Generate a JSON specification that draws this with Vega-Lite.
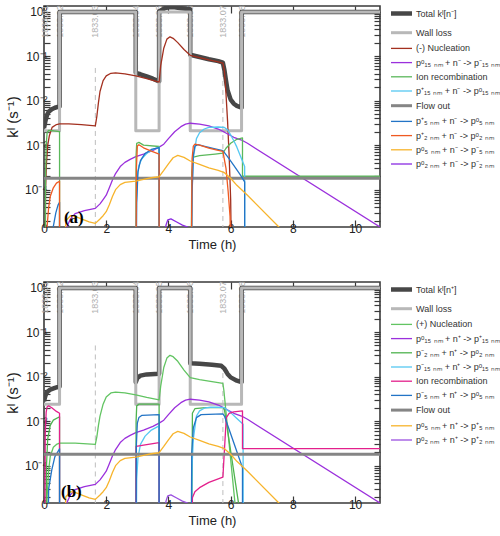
{
  "$schema": "https://vega.github.io/schema/vega-lite/v6.json",
  "padding": {"left": 4, "top": 4, "right": 0, "bottom": 0},
  "spacing": 28,
  "datasets": {
    "notes": [
      {"t": 0.02, "k": 0.6, "lab": "1833.01"},
      {"t": 0.5, "k": 0.6, "lab": "1833.02"},
      {"t": 1.65, "k": 0.6, "lab": "1833.03"},
      {"t": 2.95, "k": 0.6, "lab": "1833.04"},
      {"t": 3.7, "k": 0.6, "lab": "1833.05"},
      {"t": 4.7, "k": 0.6, "lab": "1833.06"},
      {"t": 5.75, "k": 0.6, "lab": "1833.07"},
      {"t": 6.35, "k": 0.6, "lab": "1833.08"}
    ],
    "dashA": [{"t": 1.65, "k": 0.054}, {"t": 5.75, "k": 0.07}],
    "dashB": [{"t": 1.65, "k": 0.05}, {"t": 5.75, "k": 0.012}],
    "a": [
      {"s":"T","t":0,"k":0.0024},{"s":"T","t":0.05,"k":0.0036},{"s":"T","t":0.1,"k":0.0048},{"s":"T","t":0.15,"k":0.0056},{"s":"T","t":0.25,"k":0.0064},{"s":"T","t":0.35,"k":0.0069},{"s":"T","t":0.5,"k":0.0074},{"s":"T","t":0.5,"k":0.975},{"s":"T","t":2.95,"k":0.975},{"s":"T","t":2.95,"k":0.042},{"s":"T","t":3.1,"k":0.039},{"s":"T","t":3.3,"k":0.035},{"s":"T","t":3.5,"k":0.031},{"s":"T","t":3.7,"k":0.027},{"s":"T","t":3.7,"k":1.0},{"s":"T","t":3.8,"k":1.1},{"s":"T","t":3.9,"k":1.2},{"s":"T","t":4.05,"k":1.26},{"s":"T","t":4.2,"k":1.24},{"s":"T","t":4.4,"k":1.19},{"s":"T","t":4.55,"k":1.15},{"s":"T","t":4.7,"k":1.12},{"s":"T","t":4.7,"k":0.107},{"s":"T","t":5.0,"k":0.095},{"s":"T","t":5.3,"k":0.085},{"s":"T","t":5.6,"k":0.077},{"s":"T","t":5.75,"k":0.071},{"s":"T","t":5.8,"k":0.048},{"s":"T","t":5.85,"k":0.028},{"s":"T","t":5.9,"k":0.017},{"s":"T","t":6.0,"k":0.0105},{"s":"T","t":6.1,"k":0.0085},{"s":"T","t":6.2,"k":0.0076},{"s":"T","t":6.35,"k":0.0069},{"s":"T","t":6.35,"k":0.975},{"s":"T","t":10.8,"k":0.975},
      {"s":"W","t":0,"k":0.0021},{"s":"W","t":0.5,"k":0.0021},{"s":"W","t":0.5,"k":0.97},{"s":"W","t":2.95,"k":0.97},{"s":"W","t":2.95,"k":0.0021},{"s":"W","t":3.7,"k":0.0021},{"s":"W","t":3.7,"k":0.97},{"s":"W","t":4.7,"k":0.97},{"s":"W","t":4.7,"k":0.0021},{"s":"W","t":6.35,"k":0.0021},{"s":"W","t":6.35,"k":0.97},{"s":"W","t":10.8,"k":0.97},
      {"s":"N","t":0.03,"k":1e-7},{"s":"N","t":0.05,"k":0.0001},{"s":"N","t":0.08,"k":0.0004},{"s":"N","t":0.12,"k":0.001},{"s":"N","t":0.17,"k":0.0016},{"s":"N","t":0.26,"k":0.0025},{"s":"N","t":0.4,"k":0.0029},{"s":"N","t":0.5,"k":0.003},{"s":"N","t":0.8,"k":0.003},{"s":"N","t":1.2,"k":0.0029},{"s":"N","t":1.65,"k":0.0027},{"s":"N","t":1.7,"k":0.0045},{"s":"N","t":1.75,"k":0.009},{"s":"N","t":1.8,"k":0.016},{"s":"N","t":1.9,"k":0.028},{"s":"N","t":2.0,"k":0.036},{"s":"N","t":2.15,"k":0.041},{"s":"N","t":2.3,"k":0.042},{"s":"N","t":2.6,"k":0.04},{"s":"N","t":2.95,"k":0.036},{"s":"N","t":3.3,"k":0.031},{"s":"N","t":3.7,"k":0.026},{"s":"N","t":3.75,"k":0.06},{"s":"N","t":3.85,"k":0.15},{"s":"N","t":3.95,"k":0.24},{"s":"N","t":4.05,"k":0.27},{"s":"N","t":4.15,"k":0.25},{"s":"N","t":4.3,"k":0.2},{"s":"N","t":4.5,"k":0.14},{"s":"N","t":4.7,"k":0.104},{"s":"N","t":5.0,"k":0.092},{"s":"N","t":5.3,"k":0.082},{"s":"N","t":5.6,"k":0.074},{"s":"N","t":5.75,"k":0.069},{"s":"N","t":5.8,"k":0.045},{"s":"N","t":5.85,"k":0.014},{"s":"N","t":5.9,"k":0.0035},{"s":"N","t":5.95,"k":0.0006},{"s":"N","t":6.0,"k":0.00006},{"s":"N","t":6.05,"k":1e-7},
      {"s":"P15","t":0.6,"k":1e-7},{"s":"P15","t":0.72,"k":0.000014},{"s":"P15","t":0.85,"k":0.000022},{"s":"P15","t":1.0,"k":0.000029},{"s":"P15","t":1.3,"k":0.000034},{"s":"P15","t":1.65,"k":0.000038},{"s":"P15","t":1.8,"k":0.000048},{"s":"P15","t":1.9,"k":0.00006},{"s":"P15","t":2.0,"k":0.000075},{"s":"P15","t":2.1,"k":0.00011},{"s":"P15","t":2.2,"k":0.000165},{"s":"P15","t":2.3,"k":0.00023},{"s":"P15","t":2.45,"k":0.00033},{"s":"P15","t":2.6,"k":0.00041},{"s":"P15","t":2.77,"k":0.00048},{"s":"P15","t":2.95,"k":0.00055},{"s":"P15","t":3.2,"k":0.00063},{"s":"P15","t":3.5,"k":0.00076},{"s":"P15","t":3.7,"k":0.0009},{"s":"P15","t":3.85,"k":0.00105},{"s":"P15","t":4.0,"k":0.0014},{"s":"P15","t":4.2,"k":0.002},{"s":"P15","t":4.4,"k":0.0026},{"s":"P15","t":4.55,"k":0.00295},{"s":"P15","t":4.7,"k":0.0031},{"s":"P15","t":5.0,"k":0.00295},{"s":"P15","t":5.3,"k":0.0027},{"s":"P15","t":5.6,"k":0.0023},{"s":"P15","t":5.8,"k":0.00195},{"s":"P15","t":6.1,"k":0.0015},{"s":"P15","t":6.35,"k":0.0013},{"s":"P15","t":6.54,"k":0.0011},{"s":"P15","t":10.8,"k":0.0000145},
      {"s":"IR","t":0.03,"k":1e-7},{"s":"IR","t":0.05,"k":0.0002},{"s":"IR","t":0.07,"k":0.001},{"s":"IR","t":0.1,"k":0.0019},{"s":"IR","t":0.15,"k":0.00215},{"s":"IR","t":0.3,"k":0.0021},{"s":"IR","t":0.5,"k":0.002},{"s":"IR","t":0.5,"k":1e-7},{"s":"IR","t":2.95,"k":1e-7},{"s":"IR","t":2.96,"k":0.0006},{"s":"IR","t":2.98,"k":0.0011},{"s":"IR","t":3.05,"k":0.00115},{"s":"IR","t":3.2,"k":0.001},{"s":"IR","t":3.7,"k":0.00093},{"s":"IR","t":3.7,"k":1e-7},{"s":"IR","t":4.72,"k":1e-7},{"s":"IR","t":4.75,"k":0.00025},{"s":"IR","t":4.8,"k":0.00054},{"s":"IR","t":5.0,"k":0.00058},{"s":"IR","t":5.5,"k":0.00063},{"s":"IR","t":5.75,"k":0.00066},{"s":"IR","t":5.85,"k":0.00085},{"s":"IR","t":6.0,"k":0.0011},{"s":"IR","t":6.2,"k":0.00135},{"s":"IR","t":6.38,"k":0.00145},{"s":"IR","t":6.38,"k":0.0002},{"s":"IR","t":10.8,"k":0.0002},
      {"s":"C15","t":2.95,"k":1e-7},{"s":"C15","t":2.97,"k":0.00005},{"s":"C15","t":3.0,"k":0.0002},{"s":"C15","t":3.05,"k":0.00035},{"s":"C15","t":3.15,"k":0.0005},{"s":"C15","t":3.3,"k":0.00065},{"s":"C15","t":3.5,"k":0.0008},{"s":"C15","t":3.7,"k":0.0009},{"s":"C15","t":3.7,"k":1e-7},{"s":"C15","t":4.72,"k":1e-7},{"s":"C15","t":4.76,"k":0.0001},{"s":"C15","t":4.8,"k":0.0005},{"s":"C15","t":4.9,"k":0.0014},{"s":"C15","t":5.0,"k":0.0019},{"s":"C15","t":5.15,"k":0.0023},{"s":"C15","t":5.3,"k":0.0025},{"s":"C15","t":5.6,"k":0.00255},{"s":"C15","t":5.8,"k":0.0025},{"s":"C15","t":5.9,"k":0.0022},{"s":"C15","t":6.0,"k":0.0017},{"s":"C15","t":6.1,"k":0.00125},{"s":"C15","t":6.2,"k":0.0009},{"s":"C15","t":6.3,"k":0.0006},{"s":"C15","t":6.4,"k":0.0004},{"s":"C15","t":6.45,"k":0.00033},{"s":"C15","t":6.45,"k":1e-7},
      {"s":"F","t":0,"k":0.00018},{"s":"F","t":10.8,"k":0.00018},
      {"s":"B5","t":0.25,"k":1e-7},{"s":"B5","t":0.3,"k":0.000015},{"s":"B5","t":0.38,"k":0.00003},{"s":"B5","t":0.45,"k":0.000045},{"s":"B5","t":0.5,"k":0.000052},{"s":"B5","t":0.5,"k":1e-7},{"s":"B5","t":2.95,"k":1e-7},{"s":"B5","t":2.98,"k":0.00005},{"s":"B5","t":3.02,"k":0.00025},{"s":"B5","t":3.1,"k":0.00045},{"s":"B5","t":3.25,"k":0.00065},{"s":"B5","t":3.45,"k":0.0008},{"s":"B5","t":3.7,"k":0.00088},{"s":"B5","t":3.7,"k":1e-7},{"s":"B5","t":4.72,"k":1e-7},{"s":"B5","t":4.76,"k":0.00008},{"s":"B5","t":4.8,"k":0.0006},{"s":"B5","t":4.85,"k":0.00095},{"s":"B5","t":4.95,"k":0.00102},{"s":"B5","t":5.2,"k":0.00092},{"s":"B5","t":5.5,"k":0.00082},{"s":"B5","t":5.75,"k":0.00075},{"s":"B5","t":5.9,"k":0.00055},{"s":"B5","t":6.1,"k":0.00035},{"s":"B5","t":6.3,"k":0.00022},{"s":"B5","t":6.45,"k":0.00015},{"s":"B5","t":6.45,"k":1e-7},
      {"s":"O2","t":0.05,"k":1e-7},{"s":"O2","t":0.1,"k":0.000015},{"s":"O2","t":0.15,"k":0.00004},{"s":"O2","t":0.2,"k":0.00007},{"s":"O2","t":0.3,"k":0.00011},{"s":"O2","t":0.4,"k":0.00014},{"s":"O2","t":0.5,"k":0.000155},{"s":"O2","t":0.5,"k":1e-7},{"s":"O2","t":2.95,"k":1e-7},{"s":"O2","t":2.97,"k":0.0003},{"s":"O2","t":3.0,"k":0.00095},{"s":"O2","t":3.05,"k":0.00102},{"s":"O2","t":3.2,"k":0.00087},{"s":"O2","t":3.45,"k":0.00073},{"s":"O2","t":3.7,"k":0.00063},{"s":"O2","t":3.7,"k":1e-7},{"s":"O2","t":4.72,"k":1e-7},{"s":"O2","t":4.76,"k":0.0005},{"s":"O2","t":4.8,"k":0.00095},{"s":"O2","t":4.85,"k":0.00105},{"s":"O2","t":5.0,"k":0.001},{"s":"O2","t":5.3,"k":0.00086},{"s":"O2","t":5.6,"k":0.00076},{"s":"O2","t":5.75,"k":0.00072},{"s":"O2","t":5.85,"k":0.0003},{"s":"O2","t":5.92,"k":0.00009},{"s":"O2","t":5.98,"k":0.000025},{"s":"O2","t":6.05,"k":1e-7},
      {"s":"Y5","t":0.6,"k":1e-7},{"s":"Y5","t":0.7,"k":0.00002},{"s":"Y5","t":0.85,"k":0.000026},{"s":"Y5","t":1.0,"k":0.000025},{"s":"Y5","t":1.2,"k":0.000022},{"s":"Y5","t":1.45,"k":0.000019},{"s":"Y5","t":1.65,"k":0.0000175},{"s":"Y5","t":1.8,"k":0.000022},{"s":"Y5","t":1.9,"k":0.000026},{"s":"Y5","t":2.0,"k":0.000032},{"s":"Y5","t":2.1,"k":0.000046},{"s":"Y5","t":2.2,"k":0.00007},{"s":"Y5","t":2.3,"k":0.0001},{"s":"Y5","t":2.45,"k":0.00013},{"s":"Y5","t":2.6,"k":0.000145},{"s":"Y5","t":2.95,"k":0.000155},{"s":"Y5","t":3.2,"k":0.00017},{"s":"Y5","t":3.45,"k":0.000185},{"s":"Y5","t":3.7,"k":0.000195},{"s":"Y5","t":3.85,"k":0.00027},{"s":"Y5","t":4.0,"k":0.00038},{"s":"Y5","t":4.15,"k":0.00052},{"s":"Y5","t":4.3,"k":0.00059},{"s":"Y5","t":4.5,"k":0.00053},{"s":"Y5","t":4.7,"k":0.00044},{"s":"Y5","t":5.0,"k":0.00037},{"s":"Y5","t":5.3,"k":0.00031},{"s":"Y5","t":5.6,"k":0.00027},{"s":"Y5","t":5.8,"k":0.00024},{"s":"Y5","t":6.0,"k":0.00018},{"s":"Y5","t":6.2,"k":0.000125},{"s":"Y5","t":6.54,"k":0.000075},{"s":"Y5","t":7.55,"k":0.0000145},{"s":"Y5","t":7.65,"k":0.000012},
      {"s":"P2","t":3.88,"k":1e-7},{"s":"P2","t":3.92,"k":0.000016},{"s":"P2","t":3.98,"k":0.000021},{"s":"P2","t":4.08,"k":0.000022},{"s":"P2","t":4.25,"k":0.000019},{"s":"P2","t":4.45,"k":0.000016},{"s":"P2","t":4.62,"k":0.0000145},{"s":"P2","t":4.66,"k":1e-7}
    ],
    "b": [
      {"s":"T","t":0,"k":0.0028},{"s":"T","t":0.05,"k":0.0038},{"s":"T","t":0.1,"k":0.0045},{"s":"T","t":0.2,"k":0.0051},{"s":"T","t":0.35,"k":0.0056},{"s":"T","t":0.5,"k":0.006},{"s":"T","t":0.5,"k":0.975},{"s":"T","t":2.95,"k":0.975},{"s":"T","t":2.95,"k":0.0075},{"s":"T","t":3.0,"k":0.0093},{"s":"T","t":3.1,"k":0.0105},{"s":"T","t":3.3,"k":0.0112},{"s":"T","t":3.7,"k":0.0116},{"s":"T","t":3.7,"k":0.975},{"s":"T","t":4.7,"k":0.975},{"s":"T","t":4.7,"k":0.02},{"s":"T","t":5.0,"k":0.0195},{"s":"T","t":5.4,"k":0.0185},{"s":"T","t":5.7,"k":0.0175},{"s":"T","t":5.8,"k":0.015},{"s":"T","t":5.9,"k":0.0115},{"s":"T","t":6.0,"k":0.0096},{"s":"T","t":6.2,"k":0.0081},{"s":"T","t":6.35,"k":0.0075},{"s":"T","t":6.35,"k":0.975},{"s":"T","t":10.8,"k":0.975},
      {"s":"W","t":0,"k":0.0024},{"s":"W","t":0.5,"k":0.0024},{"s":"W","t":0.5,"k":0.97},{"s":"W","t":2.95,"k":0.97},{"s":"W","t":2.95,"k":0.0024},{"s":"W","t":3.7,"k":0.0024},{"s":"W","t":3.7,"k":0.97},{"s":"W","t":4.7,"k":0.97},{"s":"W","t":4.7,"k":0.0024},{"s":"W","t":6.35,"k":0.0024},{"s":"W","t":6.35,"k":0.97},{"s":"W","t":10.8,"k":0.97},
      {"s":"N","t":0.05,"k":1e-7},{"s":"N","t":0.1,"k":0.00002},{"s":"N","t":0.15,"k":0.00008},{"s":"N","t":0.2,"k":0.00016},{"s":"N","t":0.3,"k":0.00026},{"s":"N","t":0.4,"k":0.0003},{"s":"N","t":0.5,"k":0.00032},{"s":"N","t":1.0,"k":0.00032},{"s":"N","t":1.65,"k":0.0003},{"s":"N","t":1.7,"k":0.00045},{"s":"N","t":1.75,"k":0.0008},{"s":"N","t":1.8,"k":0.0013},{"s":"N","t":1.9,"k":0.0024},{"s":"N","t":2.0,"k":0.0035},{"s":"N","t":2.15,"k":0.0043},{"s":"N","t":2.3,"k":0.0045},{"s":"N","t":2.6,"k":0.0043},{"s":"N","t":2.95,"k":0.0039},{"s":"N","t":3.3,"k":0.0034},{"s":"N","t":3.7,"k":0.003},{"s":"N","t":3.75,"k":0.006},{"s":"N","t":3.85,"k":0.016},{"s":"N","t":3.95,"k":0.026},{"s":"N","t":4.05,"k":0.03},{"s":"N","t":4.15,"k":0.028},{"s":"N","t":4.3,"k":0.022},{"s":"N","t":4.5,"k":0.014},{"s":"N","t":4.7,"k":0.0095},{"s":"N","t":5.0,"k":0.0085},{"s":"N","t":5.4,"k":0.0077},{"s":"N","t":5.75,"k":0.007},{"s":"N","t":5.78,"k":0.005},{"s":"N","t":6.15,"k":0.000012},{"s":"N","t":6.2,"k":1e-7},
      {"s":"P15","t":0.6,"k":1e-7},{"s":"P15","t":0.72,"k":0.000014},{"s":"P15","t":0.85,"k":0.000022},{"s":"P15","t":1.0,"k":0.000029},{"s":"P15","t":1.3,"k":0.000034},{"s":"P15","t":1.65,"k":0.000038},{"s":"P15","t":1.8,"k":0.000048},{"s":"P15","t":1.9,"k":0.00006},{"s":"P15","t":2.0,"k":0.000075},{"s":"P15","t":2.1,"k":0.00011},{"s":"P15","t":2.2,"k":0.000165},{"s":"P15","t":2.3,"k":0.00023},{"s":"P15","t":2.45,"k":0.00033},{"s":"P15","t":2.6,"k":0.00041},{"s":"P15","t":2.77,"k":0.00048},{"s":"P15","t":2.95,"k":0.00055},{"s":"P15","t":3.2,"k":0.00063},{"s":"P15","t":3.5,"k":0.00076},{"s":"P15","t":3.7,"k":0.0009},{"s":"P15","t":3.85,"k":0.00105},{"s":"P15","t":4.0,"k":0.0014},{"s":"P15","t":4.2,"k":0.002},{"s":"P15","t":4.4,"k":0.0026},{"s":"P15","t":4.55,"k":0.00295},{"s":"P15","t":4.7,"k":0.0031},{"s":"P15","t":5.0,"k":0.00295},{"s":"P15","t":5.3,"k":0.0027},{"s":"P15","t":5.6,"k":0.0023},{"s":"P15","t":5.8,"k":0.00195},{"s":"P15","t":6.1,"k":0.0015},{"s":"P15","t":6.35,"k":0.0013},{"s":"P15","t":6.54,"k":0.0011},{"s":"P15","t":10.8,"k":0.0000145},
      {"s":"G2","t":0.05,"k":1e-7},{"s":"G2","t":0.08,"k":0.0001},{"s":"G2","t":0.12,"k":0.0004},{"s":"G2","t":0.2,"k":0.0008},{"s":"G2","t":0.3,"k":0.00105},{"s":"G2","t":0.5,"k":0.00125},{"s":"G2","t":0.5,"k":1e-7},{"s":"G2","t":2.95,"k":1e-7},{"s":"G2","t":2.96,"k":0.001},{"s":"G2","t":2.98,"k":0.0022},{"s":"G2","t":3.05,"k":0.0024},{"s":"G2","t":3.7,"k":0.0024},{"s":"G2","t":3.7,"k":1e-7},{"s":"G2","t":4.74,"k":1e-7},{"s":"G2","t":4.77,"k":0.0015},{"s":"G2","t":4.85,"k":0.0019},{"s":"G2","t":5.2,"k":0.002},{"s":"G2","t":5.75,"k":0.002},{"s":"G2","t":5.8,"k":0.0018},{"s":"G2","t":6.27,"k":0.000012},{"s":"G2","t":6.3,"k":1e-7},
      {"s":"C15","t":2.95,"k":1e-7},{"s":"C15","t":2.98,"k":0.00005},{"s":"C15","t":3.02,"k":0.00015},{"s":"C15","t":3.1,"k":0.0003},{"s":"C15","t":3.25,"k":0.00046},{"s":"C15","t":3.45,"k":0.00063},{"s":"C15","t":3.7,"k":0.00078},{"s":"C15","t":3.7,"k":1e-7},{"s":"C15","t":4.72,"k":1e-7},{"s":"C15","t":4.76,"k":0.0001},{"s":"C15","t":4.8,"k":0.0004},{"s":"C15","t":4.9,"k":0.0013},{"s":"C15","t":5.0,"k":0.0017},{"s":"C15","t":5.15,"k":0.00195},{"s":"C15","t":5.35,"k":0.00205},{"s":"C15","t":5.6,"k":0.00205},{"s":"C15","t":5.8,"k":0.002},{"s":"C15","t":6.0,"k":0.00155},{"s":"C15","t":6.2,"k":0.00115},{"s":"C15","t":6.4,"k":0.00085},{"s":"C15","t":6.4,"k":1e-7},
      {"s":"IR","t":0.02,"k":1e-7},{"s":"IR","t":0.04,"k":0.0005},{"s":"IR","t":0.07,"k":0.0016},{"s":"IR","t":0.1,"k":0.0021},{"s":"IR","t":0.15,"k":0.0022},{"s":"IR","t":0.25,"k":0.002},{"s":"IR","t":0.4,"k":0.00165},{"s":"IR","t":0.5,"k":0.0015},{"s":"IR","t":0.5,"k":1e-7},{"s":"IR","t":2.95,"k":1e-7},{"s":"IR","t":2.96,"k":0.00027},{"s":"IR","t":3.2,"k":0.00029},{"s":"IR","t":3.45,"k":0.00031},{"s":"IR","t":3.7,"k":0.00033},{"s":"IR","t":3.7,"k":1e-7},{"s":"IR","t":4.74,"k":1e-7},{"s":"IR","t":4.77,"k":0.000019},{"s":"IR","t":4.85,"k":0.000026},{"s":"IR","t":5.0,"k":0.000032},{"s":"IR","t":5.3,"k":0.000042},{"s":"IR","t":5.75,"k":0.000055},{"s":"IR","t":5.82,"k":0.0004},{"s":"IR","t":5.86,"k":0.0012},{"s":"IR","t":5.95,"k":0.0015},{"s":"IR","t":6.1,"k":0.00162},{"s":"IR","t":6.38,"k":0.0017},{"s":"IR","t":6.38,"k":0.00024},{"s":"IR","t":10.8,"k":0.00024},
      {"s":"B5","t":0.1,"k":1e-7},{"s":"B5","t":0.15,"k":0.00003},{"s":"B5","t":0.25,"k":0.00008},{"s":"B5","t":0.35,"k":0.00016},{"s":"B5","t":0.5,"k":0.00024},{"s":"B5","t":0.5,"k":1e-7},{"s":"B5","t":2.95,"k":1e-7},{"s":"B5","t":2.97,"k":0.0003},{"s":"B5","t":3.0,"k":0.0009},{"s":"B5","t":3.05,"k":0.0012},{"s":"B5","t":3.15,"k":0.00135},{"s":"B5","t":3.7,"k":0.0014},{"s":"B5","t":3.7,"k":1e-7},{"s":"B5","t":4.72,"k":1e-7},{"s":"B5","t":4.75,"k":0.0002},{"s":"B5","t":4.8,"k":0.0007},{"s":"B5","t":4.9,"k":0.0012},{"s":"B5","t":5.05,"k":0.0014},{"s":"B5","t":5.75,"k":0.00145},{"s":"B5","t":5.8,"k":0.0013},{"s":"B5","t":6.38,"k":0.00009},{"s":"B5","t":6.38,"k":1e-7},
      {"s":"F","t":0,"k":0.00018},{"s":"F","t":10.8,"k":0.00018},
      {"s":"Y5","t":0.6,"k":1e-7},{"s":"Y5","t":0.7,"k":0.00002},{"s":"Y5","t":0.85,"k":0.000026},{"s":"Y5","t":1.0,"k":0.000025},{"s":"Y5","t":1.2,"k":0.000022},{"s":"Y5","t":1.45,"k":0.000019},{"s":"Y5","t":1.65,"k":0.0000175},{"s":"Y5","t":1.8,"k":0.000022},{"s":"Y5","t":1.9,"k":0.000026},{"s":"Y5","t":2.0,"k":0.000032},{"s":"Y5","t":2.1,"k":0.000046},{"s":"Y5","t":2.2,"k":0.00007},{"s":"Y5","t":2.3,"k":0.0001},{"s":"Y5","t":2.45,"k":0.00013},{"s":"Y5","t":2.6,"k":0.000145},{"s":"Y5","t":2.95,"k":0.000155},{"s":"Y5","t":3.2,"k":0.00017},{"s":"Y5","t":3.45,"k":0.000185},{"s":"Y5","t":3.7,"k":0.000195},{"s":"Y5","t":3.85,"k":0.00027},{"s":"Y5","t":4.0,"k":0.00038},{"s":"Y5","t":4.15,"k":0.00052},{"s":"Y5","t":4.3,"k":0.00059},{"s":"Y5","t":4.5,"k":0.00053},{"s":"Y5","t":4.7,"k":0.00044},{"s":"Y5","t":5.0,"k":0.00037},{"s":"Y5","t":5.3,"k":0.00031},{"s":"Y5","t":5.6,"k":0.00027},{"s":"Y5","t":5.8,"k":0.00024},{"s":"Y5","t":6.0,"k":0.00018},{"s":"Y5","t":6.2,"k":0.000125},{"s":"Y5","t":6.54,"k":0.000075},{"s":"Y5","t":7.55,"k":0.0000145},{"s":"Y5","t":7.65,"k":0.000012},
      {"s":"P2","t":3.88,"k":1e-7},{"s":"P2","t":3.92,"k":0.000016},{"s":"P2","t":3.98,"k":0.000021},{"s":"P2","t":4.08,"k":0.000022},{"s":"P2","t":4.25,"k":0.000019},{"s":"P2","t":4.45,"k":0.000016},{"s":"P2","t":4.62,"k":0.0000145},{"s":"P2","t":4.66,"k":1e-7}
    ]
  },
  "vconcat": [
    {
      "width": 336,
      "height": 221,
      "layer": [
        {
          "data": {"name": "notes"},
          "mark": {"type": "text", "angle": 270, "fontSize": 9, "color": "#b0b0b0", "baseline": "middle", "align": "center"},
          "encoding": {
            "x": {"field": "t", "type": "quantitative", "scale": {"domain": [0, 10.8], "nice": false, "zero": false},
                  "axis": {"orient": "top", "values": [2, 4, 6, 8, 10], "labels": false, "title": null, "tickSize": -7}},
            "y": {"field": "k", "type": "quantitative", "scale": {"type": "log", "domain": [0.0000145, 1.33], "nice": false},
                  "axis": {"orient": "right", "values": [0.00002,0.00003,0.00004,0.00005,0.00006,0.00007,0.00008,0.00009,0.0001,0.0002,0.0003,0.0004,0.0005,0.0006,0.0007,0.0008,0.0009,0.001,0.002,0.003,0.004,0.005,0.006,0.007,0.008,0.009,0.01,0.02,0.03,0.04,0.05,0.06,0.07,0.08,0.09,0.1,0.2,0.3,0.4,0.5,0.6,0.7,0.8,0.9,1], "labels": false, "title": null, "tickSize": -6}},
            "text": {"field": "lab", "type": "nominal"}
          }
        },
        {
          "data": {"name": "dashA"},
          "mark": {"type": "rule", "strokeDash": [5, 4], "color": "#bdbdbd", "strokeWidth": 1, "clip": true},
          "encoding": {
            "x": {"field": "t", "type": "quantitative", "scale": {"domain": [0, 10.8], "nice": false, "zero": false}, "axis": null},
            "y": {"field": "k", "type": "quantitative", "scale": {"type": "log", "domain": [0.0000145, 1.33], "nice": false}, "axis": null},
            "y2": {"datum": 1e-7}
          }
        },
        {
          "data": {"name": "a"},
          "mark": {"type": "line", "clip": true, "strokeJoin": "round"},
          "encoding": {
            "x": {"field": "t", "type": "quantitative", "scale": {"domain": [0, 10.8], "nice": false, "zero": false},
                  "axis": {"orient": "bottom", "values": [0, 2, 4, 6, 8, 10], "title": "Time (h)", "tickSize": -7, "labelFlush": false}},
            "y": {"field": "k", "type": "quantitative", "scale": {"type": "log", "domain": [0.0000145, 1.33], "nice": false},
                  "axis": {"orient": "left", "values": [0.00002,0.00003,0.00004,0.00005,0.00006,0.00007,0.00008,0.00009,0.0001,0.0002,0.0003,0.0004,0.0005,0.0006,0.0007,0.0008,0.0009,0.001,0.002,0.003,0.004,0.005,0.006,0.007,0.008,0.009,0.01,0.02,0.03,0.04,0.05,0.06,0.07,0.08,0.09,0.1,0.2,0.3,0.4,0.5,0.6,0.7,0.8,0.9,1],
                           "labelExpr": "datum.value == 1 ? '10⁰' : datum.value == 0.1 ? '10⁻¹' : datum.value == 0.01 ? '10⁻²' : datum.value == 0.001 ? '10⁻³' : datum.value == 0.0001 ? '10⁻⁴' : ''",
                           "title": "kᴵ (s⁻¹)", "tickSize": -6}},
            "color": {"field": "s", "type": "nominal",
                      "scale": {"domain": ["T","W","N","P15","IR","C15","F","B5","O2","Y5","P2"],
                                "range": ["#474747","#b8b8b8","#a3301f","#9b30dc","#5bb85b","#55c8f2","#858585","#2374c6","#ef5a22","#f7b42c","#8a2be2"]},
                      "legend": {"labelExpr": "{'T':'Total kᴵ[n⁻]','W':'Wall loss','N':'(-) Nucleation','P15':'pᵒ₁₅ ₙₘ + n⁻ -> p⁻₁₅ ₙₘ','IR':'Ion recombination','C15':'p⁺₁₅ ₙₘ + n⁻ -> pᵒ₁₅ ₙₘ','F':'Flow out','B5':'p⁺₅ ₙₘ + n⁻ -> pᵒ₅ ₙₘ','O2':'p⁺₂ ₙₘ + n⁻ -> pᵒ₂ ₙₘ','Y5':'pᵒ₅ ₙₘ + n⁻ -> p⁻₅ ₙₘ','P2':'pᵒ₂ ₙₘ + n⁻ -> p⁻₂ ₙₘ'}[datum.label]"}},
            "strokeWidth": {"field": "s", "type": "nominal",
                      "scale": {"type": "ordinal", "domain": ["T","W","N","P15","IR","C15","F","B5","O2","Y5","P2"],
                                "range": [4.5, 3, 1.3, 1.3, 1.3, 1.3, 3, 1.3, 1.3, 1.3, 1.3]},
                      "legend": {"labelExpr": "{'T':'Total kᴵ[n⁻]','W':'Wall loss','N':'(-) Nucleation','P15':'pᵒ₁₅ ₙₘ + n⁻ -> p⁻₁₅ ₙₘ','IR':'Ion recombination','C15':'p⁺₁₅ ₙₘ + n⁻ -> pᵒ₁₅ ₙₘ','F':'Flow out','B5':'p⁺₅ ₙₘ + n⁻ -> pᵒ₅ ₙₘ','O2':'p⁺₂ ₙₘ + n⁻ -> pᵒ₂ ₙₘ','Y5':'pᵒ₅ ₙₘ + n⁻ -> p⁻₅ ₙₘ','P2':'pᵒ₂ ₙₘ + n⁻ -> p⁻₂ ₙₘ'}[datum.label]"}}
          }
        },
        {
          "data": {"values": [{"t": 0.96, "k": 0.000023, "lab": "(a)"}]},
          "mark": {"type": "text", "font": "Liberation Serif", "fontWeight": "bold", "fontSize": 17, "color": "#000000"},
          "encoding": {
            "x": {"field": "t", "type": "quantitative", "scale": {"domain": [0, 10.8], "nice": false, "zero": false}, "axis": null},
            "y": {"field": "k", "type": "quantitative", "scale": {"type": "log", "domain": [0.0000145, 1.33], "nice": false}, "axis": null},
            "text": {"field": "lab", "type": "nominal"}
          }
        }
      ],
      "resolve": {"axis": {"x": "independent", "y": "independent"}}
    },
    {
      "width": 336,
      "height": 221,
      "layer": [
        {
          "data": {"name": "notes"},
          "mark": {"type": "text", "angle": 270, "fontSize": 9, "color": "#b0b0b0", "baseline": "middle", "align": "center"},
          "encoding": {
            "x": {"field": "t", "type": "quantitative", "scale": {"domain": [0, 10.8], "nice": false, "zero": false},
                  "axis": {"orient": "top", "values": [2, 4, 6, 8, 10], "labels": false, "title": null, "tickSize": -7}},
            "y": {"field": "k", "type": "quantitative", "scale": {"type": "log", "domain": [0.0000145, 1.33], "nice": false},
                  "axis": {"orient": "right", "values": [0.00002,0.00003,0.00004,0.00005,0.00006,0.00007,0.00008,0.00009,0.0001,0.0002,0.0003,0.0004,0.0005,0.0006,0.0007,0.0008,0.0009,0.001,0.002,0.003,0.004,0.005,0.006,0.007,0.008,0.009,0.01,0.02,0.03,0.04,0.05,0.06,0.07,0.08,0.09,0.1,0.2,0.3,0.4,0.5,0.6,0.7,0.8,0.9,1], "labels": false, "title": null, "tickSize": -6}},
            "text": {"field": "lab", "type": "nominal"}
          }
        },
        {
          "data": {"name": "dashB"},
          "mark": {"type": "rule", "strokeDash": [5, 4], "color": "#bdbdbd", "strokeWidth": 1, "clip": true},
          "encoding": {
            "x": {"field": "t", "type": "quantitative", "scale": {"domain": [0, 10.8], "nice": false, "zero": false}, "axis": null},
            "y": {"field": "k", "type": "quantitative", "scale": {"type": "log", "domain": [0.0000145, 1.33], "nice": false}, "axis": null},
            "y2": {"datum": 1e-7}
          }
        },
        {
          "data": {"name": "b"},
          "mark": {"type": "line", "clip": true, "strokeJoin": "round"},
          "encoding": {
            "x": {"field": "t", "type": "quantitative", "scale": {"domain": [0, 10.8], "nice": false, "zero": false},
                  "axis": {"orient": "bottom", "values": [0, 2, 4, 6, 8, 10], "title": "Time (h)", "tickSize": -7, "labelFlush": false}},
            "y": {"field": "k", "type": "quantitative", "scale": {"type": "log", "domain": [0.0000145, 1.33], "nice": false},
                  "axis": {"orient": "left", "values": [0.00002,0.00003,0.00004,0.00005,0.00006,0.00007,0.00008,0.00009,0.0001,0.0002,0.0003,0.0004,0.0005,0.0006,0.0007,0.0008,0.0009,0.001,0.002,0.003,0.004,0.005,0.006,0.007,0.008,0.009,0.01,0.02,0.03,0.04,0.05,0.06,0.07,0.08,0.09,0.1,0.2,0.3,0.4,0.5,0.6,0.7,0.8,0.9,1],
                           "labelExpr": "datum.value == 1 ? '10⁰' : datum.value == 0.1 ? '10⁻¹' : datum.value == 0.01 ? '10⁻²' : datum.value == 0.001 ? '10⁻³' : datum.value == 0.0001 ? '10⁻⁴' : ''",
                           "title": "kᴵ (s⁻¹)", "tickSize": -6}},
            "color": {"field": "s", "type": "nominal",
                      "scale": {"domain": ["T","W","N","P15","G2","C15","IR","B5","F","Y5","P2"],
                                "range": ["#474747","#b8b8b8","#62c462","#9b30dc","#4fb34f","#55c8f2","#e3208c","#2374c6","#858585","#f7b42c","#9b4fe0"]},
                      "legend": {"labelExpr": "{'T':'Total kᴵ[n⁺]','W':'Wall loss','N':'(+) Nucleation','P15':'pᵒ₁₅ ₙₘ + n⁺ -> p⁺₁₅ ₙₘ','G2':'p⁻₂ ₙₘ + n⁺ -> pᵒ₂ ₙₘ','C15':'p⁻₁₅ ₙₘ + n⁺ -> pᵒ₁₅ ₙₘ','IR':'Ion recombination','B5':'p⁻₅ ₙₘ + n⁺ -> pᵒ₅ ₙₘ','F':'Flow out','Y5':'pᵒ₅ ₙₘ + n⁺ -> p⁺₅ ₙₘ','P2':'pᵒ₂ ₙₘ + n⁺ -> p⁺₂ ₙₘ'}[datum.label]"}},
            "strokeWidth": {"field": "s", "type": "nominal",
                      "scale": {"type": "ordinal", "domain": ["T","W","N","P15","G2","C15","IR","B5","F","Y5","P2"],
                                "range": [4.5, 3, 1.3, 1.3, 1.3, 1.3, 1.3, 1.3, 3, 1.3, 1.3]},
                      "legend": {"labelExpr": "{'T':'Total kᴵ[n⁺]','W':'Wall loss','N':'(+) Nucleation','P15':'pᵒ₁₅ ₙₘ + n⁺ -> p⁺₁₅ ₙₘ','G2':'p⁻₂ ₙₘ + n⁺ -> pᵒ₂ ₙₘ','C15':'p⁻₁₅ ₙₘ + n⁺ -> pᵒ₁₅ ₙₘ','IR':'Ion recombination','B5':'p⁻₅ ₙₘ + n⁺ -> pᵒ₅ ₙₘ','F':'Flow out','Y5':'pᵒ₅ ₙₘ + n⁺ -> p⁺₅ ₙₘ','P2':'pᵒ₂ ₙₘ + n⁺ -> p⁺₂ ₙₘ'}[datum.label]"}}
          }
        },
        {
          "data": {"values": [{"t": 0.88, "k": 0.000025, "lab": "(b)"}]},
          "mark": {"type": "text", "font": "Liberation Serif", "fontWeight": "bold", "fontSize": 17, "color": "#000000"},
          "encoding": {
            "x": {"field": "t", "type": "quantitative", "scale": {"domain": [0, 10.8], "nice": false, "zero": false}, "axis": null},
            "y": {"field": "k", "type": "quantitative", "scale": {"type": "log", "domain": [0.0000145, 1.33], "nice": false}, "axis": null},
            "text": {"field": "lab", "type": "nominal"}
          }
        }
      ],
      "resolve": {"axis": {"x": "independent", "y": "independent"}}
    }
  ],
  "resolve": {"scale": {"color": "independent", "strokeWidth": "independent"}},
  "config": {
    "font": "Liberation Sans",
    "view": {"stroke": "#3a3a3a", "strokeWidth": 1.6},
    "axis": {"grid": false, "domain": false, "tickColor": "#3a3a3a", "tickWidth": 1.2, "labelColor": "#222222", "labelFontSize": 12, "labelOverlap": false, "titleFontWeight": "normal", "titleColor": "#222222", "titleFontSize": 13},
    "axisLeft": {"titleFontSize": 15, "labelPadding": 3},
    "axisBottom": {"labelPadding": 3},
    "legend": {"orient": "right", "offset": 13, "title": null, "symbolType": "M-2.1,0H2.1", "symbolSize": 100, "labelFontSize": 9, "labelColor": "#333333", "labelLimit": 0, "rowPadding": 3.2, "padding": 0, "labelOffset": 7}
  }
}
